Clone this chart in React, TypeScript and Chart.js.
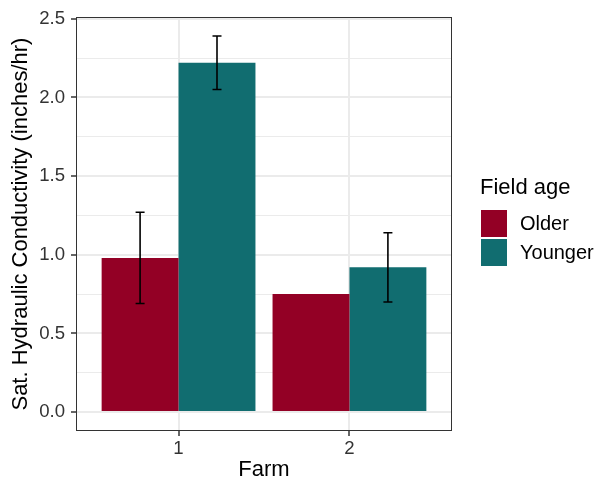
import React, { useEffect, useRef } from "react";
import { Chart, registerables } from "chart.js";

Chart.register(...registerables);

const farms = [1, 2];
const farmLabels = ["1", "2"];
const seriesNames = ["Older", "Younger"];
const olderValues = [0.98, 0.75];
const youngerValues = [2.22, 0.92];
const olderLow: (number | null)[] = [0.69, null];
const olderHigh: (number | null)[] = [1.27, null];
const youngerLow: (number | null)[] = [2.05, 0.7];
const youngerHigh: (number | null)[] = [2.39, 1.14];
const yMajorTicks = [0, 0.5, 1, 1.5, 2, 2.5];
const yMinorTicks = [0.25, 0.75, 1.25, 1.75, 2.25];
const seriesColors = ["#930025", "#116D70"];

const FONT = "'Liberation Sans', Arial, Helvetica, sans-serif";

export default function App() {
  const ref = useRef<HTMLCanvasElement | null>(null);

  useEffect(() => {
    if (!ref.current) return;
    const lows = [olderLow, youngerLow];
    const highs = [olderHigh, youngerHigh];

    const errorBars = {
      id: "errorBars",
      afterDatasetsDraw(chart: any) {
        const ctx = chart.ctx;
        const yScale = chart.scales.y;
        ctx.save();
        ctx.strokeStyle = "#000000";
        ctx.lineWidth = 1.6;
        chart.data.datasets.forEach((_ds: any, di: number) => {
          const meta = chart.getDatasetMeta(di);
          meta.data.forEach((bar: any, i: number) => {
            const lo = lows[di][i];
            const hi = highs[di][i];
            if (lo == null || hi == null) return;
            const x = bar.x;
            const yl = yScale.getPixelForValue(lo);
            const yh = yScale.getPixelForValue(hi);
            const w = 4.5;
            ctx.beginPath();
            ctx.moveTo(x, yl);
            ctx.lineTo(x, yh);
            ctx.moveTo(x - w, yl);
            ctx.lineTo(x + w, yl);
            ctx.moveTo(x - w, yh);
            ctx.lineTo(x + w, yh);
            ctx.stroke();
          });
        });
        ctx.restore();
      },
    };

    const panelBorder = {
      id: "panelBorder",
      afterDraw(chart: any) {
        const { ctx, chartArea } = chart;
        ctx.save();
        ctx.strokeStyle = "#333333";
        ctx.lineWidth = 1;
        ctx.strokeRect(
          Math.round(chartArea.left) + 0.5,
          Math.round(chartArea.top) + 0.5,
          Math.round(chartArea.right - chartArea.left) - 1,
          Math.round(chartArea.bottom - chartArea.top) - 1
        );
        ctx.restore();
      },
    };

    const customLegend = {
      id: "customLegend",
      afterDraw(chart: any) {
        const ctx = chart.ctx;
        ctx.save();
        ctx.textAlign = "left";
        ctx.textBaseline = "middle";
        ctx.fillStyle = "#000000";
        ctx.font = `22px ${FONT}`;
        ctx.fillText("Field age", 480, 188);
        ctx.font = `20px ${FONT}`;
        chart.data.datasets.forEach((ds: any, i: number) => {
          const top = 210 + i * 29;
          ctx.fillStyle = ds.backgroundColor;
          ctx.fillRect(481, top, 26, 27);
          ctx.fillStyle = "#000000";
          ctx.fillText(ds.label, 520, top + 14);
        });
        ctx.restore();
      },
    };

    const chart = new Chart(ref.current, {
      type: "bar",
      data: {
        datasets: [
          {
            label: seriesNames[0],
            data: farms.map((f, i) => ({ x: f, y: olderValues[i] })),
            backgroundColor: seriesColors[0],
            borderWidth: 0,
          },
          {
            label: seriesNames[1],
            data: farms.map((f, i) => ({ x: f, y: youngerValues[i] })),
            backgroundColor: seriesColors[1],
            borderWidth: 0,
          },
        ],
      },
      options: {
        animation: false,
        responsive: false,
        maintainAspectRatio: false,
        events: [],
        categoryPercentage: 0.9,
        barPercentage: 1.0,
        layout: { padding: { left: 0, right: 146, top: 14, bottom: 0 } },
        plugins: {
          legend: { display: false },
          tooltip: { enabled: false },
        },
        scales: {
          x: {
            type: "linear",
            min: 0.4,
            max: 2.6,
            offset: false,
            afterBuildTicks: (s: any) => {
              s.ticks = farms.map((v) => ({ value: v }));
            },
            afterFit: (s: any) => {
              s.height = 56;
            },
            grid: {
              offset: false,
              color: "#EBEBEB",
              lineWidth: 2,
              tickLength: 5,
              tickColor: "#333333",
              tickWidth: 1.5,
            },
            border: { display: false },
            ticks: {
              autoSkip: false,
              maxRotation: 0,
              padding: 2,
              color: "#333333",
              font: { size: 18.6, family: FONT },
              callback: (v: any) => {
                const idx = farms.indexOf(Number(v));
                return idx >= 0 ? farmLabels[idx] : "";
              },
            },
            title: {
              display: true,
              text: "Farm",
              color: "#000000",
              font: { size: 22, family: FONT },
              padding: { top: 0, bottom: 4 },
            },
          },
          y: {
            type: "linear",
            min: -0.12,
            max: 2.51,
            afterBuildTicks: (s: any) => {
              s.ticks = [...yMajorTicks, ...yMinorTicks]
                .sort((a, b) => a - b)
                .map((v) => ({ value: v }));
            },
            afterFit: (s: any) => {
              s.width = 76;
            },
            grid: {
              color: "#EBEBEB",
              lineWidth: (c: any) =>
                yMajorTicks.includes(c.tick?.value) ? 2 : 1,
              tickLength: 5,
              tickColor: (c: any) =>
                yMajorTicks.includes(c.tick?.value) ? "#333333" : "rgba(0,0,0,0)",
              tickWidth: 1.5,
            },
            border: { display: false },
            ticks: {
              autoSkip: false,
              padding: 6,
              color: "#333333",
              font: { size: 18.6, family: FONT },
              callback: (v: any) =>
                yMajorTicks.includes(Number(v)) ? Number(v).toFixed(1) : "",
            },
            title: {
              display: true,
              text: "Sat. Hydraulic Conductivity (inches/hr)",
              color: "#000000",
              font: { size: 22, family: FONT },
              padding: { top: 8, bottom: 0 },
            },
          },
        },
      },
      plugins: [errorBars, panelBorder, customLegend],
    } as any);

    return () => chart.destroy();
  }, []);

  return (
    <div
      style={{
        position: "fixed",
        left: 0,
        top: 0,
        width: 598,
        height: 487,
        background: "#ffffff",
      }}
    >
      <canvas ref={ref} width={598} height={487} style={{ width: 598, height: 487 }} />
    </div>
  );
}
